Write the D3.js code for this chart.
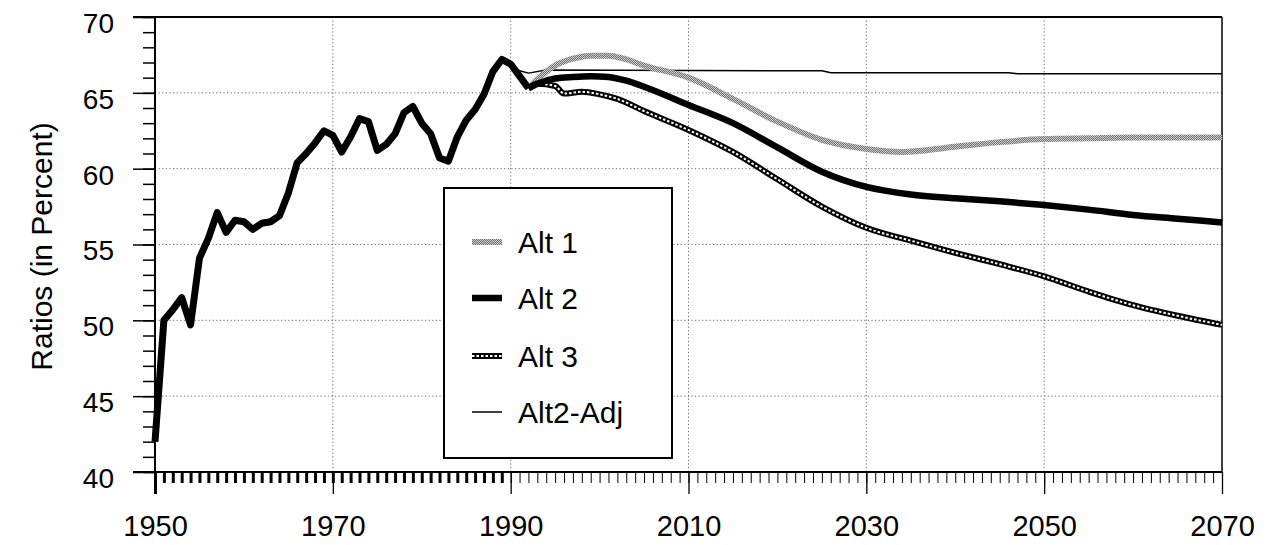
<!DOCTYPE html>
<html>
<head>
<meta charset="utf-8">
<script src="https://cdn.jsdelivr.net/npm/d3@7"></script>
<style>
  body { margin: 0; background: #fff; overflow: hidden; }
  svg { display: block; font-family: "Liberation Sans", Arial, sans-serif; }
  .axis path { display: none; }
  .axis text { fill: #000; }
</style>
</head>
<body>
<div id="chart"></div>
<script>
// historical ratio, one value per year 1950..1992
const histStart = 1950;
const historical = [
  42.0, 50.0, 50.7, 51.5, 49.7, 54.1, 55.4, 57.1, 55.8, 56.6,
  56.5, 56.0, 56.4, 56.5, 56.9, 58.4, 60.4, 61.0, 61.7, 62.5,
  62.2, 61.1, 62.1, 63.3, 63.1, 61.2, 61.6, 62.3, 63.7, 64.1,
  63.0, 62.3, 60.7, 60.5, 62.1, 63.2, 63.9, 64.9, 66.4, 67.2,
  66.9, 66.1, 65.3
];

// projections (year, value)
const alt1Years = [1992, 1993, 1995, 1997, 1999, 2001, 2003, 2005, 2010, 2015, 2020, 2025, 2030, 2034, 2040, 2045, 2050, 2055, 2060, 2065, 2070];
const alt1 =      [65.3, 65.9, 66.8, 67.25, 67.45, 67.45, 67.2, 66.8, 66.0, 64.6, 63.1, 61.9, 61.3, 61.1, 61.45, 61.75, 61.95, 62.0, 62.05, 62.05, 62.05];

const alt2Years = [1992, 1993, 1995, 1997, 1999, 2001, 2003, 2005, 2010, 2015, 2020, 2025, 2030, 2035, 2040, 2045, 2050, 2055, 2060, 2065, 2070];
const alt2 =      [65.3, 65.6, 65.95, 66.05, 66.1, 66.05, 65.8, 65.4, 64.2, 63.0, 61.4, 59.8, 58.8, 58.3, 58.05, 57.85, 57.6, 57.3, 56.95, 56.7, 56.45];

const alt3Years = [1992, 1993, 1995, 1996, 1998, 2000, 2002, 2005, 2010, 2015, 2020, 2025, 2030, 2035, 2040, 2045, 2050, 2055, 2060, 2065, 2070];
const alt3 =      [65.3, 65.6, 65.45, 64.95, 65.07, 64.9, 64.6, 63.8, 62.55, 61.1, 59.3, 57.5, 56.1, 55.25, 54.45, 53.7, 52.9, 51.9, 51.0, 50.3, 49.7];

const adjYears = [1990, 1991, 1992, 1994, 2025, 2026, 2046, 2047, 2070];
const alt2Adj =  [66.9, 66.45, 66.3, 66.5, 66.45, 66.33, 66.33, 66.26, 66.26];

const yMajor = [40, 45, 50, 55, 60, 65, 70];
const xMajor = [1950, 1970, 1990, 2010, 2030, 2050, 2070];
const legendLabels = ["Alt 1", "Alt 2", "Alt 3", "Alt2-Adj"];

const W = 1266, H = 545;
const pLeft = 155, pRight = 1222, pTop = 17, pBottom = 472;

const svg = d3.select("#chart").append("svg")
  .attr("width", W).attr("height", H);

// textured grey stroke for Alt 1
const pat = svg.append("defs").append("pattern")
  .attr("id", "hatch").attr("patternUnits", "userSpaceOnUse")
  .attr("width", 2).attr("height", 2);
pat.append("rect").attr("width", 2).attr("height", 2).attr("fill", "#707070");
pat.append("rect").attr("width", 1).attr("height", 1).attr("fill", "#cfcfcf");
pat.append("rect").attr("x", 1).attr("y", 1).attr("width", 1).attr("height", 1).attr("fill", "#cfcfcf");

const x = d3.scaleLinear().domain([1950, 2070]).range([pLeft, pRight]);
const y = d3.scaleLinear().domain([40, 70]).range([pBottom, pTop]);

// dotted grid
const grid = svg.append("g").attr("stroke", "#666").attr("stroke-width", 1)
  .attr("stroke-dasharray", "1.2,2.4");
grid.selectAll(".gy").data(yMajor.filter(v => v > 40 && v < 70)).enter().append("line")
  .attr("x1", pLeft).attr("x2", pRight).attr("y1", d => y(d)).attr("y2", d => y(d));
grid.selectAll(".gx").data(xMajor.filter(v => v > 1950 && v < 2070)).enter().append("line")
  .attr("y1", pTop).attr("y2", pBottom).attr("x1", d => x(d)).attr("x2", d => x(d));

// y axis: minor + major ticks
const yMinor = d3.range(40, 71, 1);
svg.append("g").attr("class", "axis").attr("transform", `translate(${pLeft},0)`)
  .call(d3.axisLeft(y).tickValues(yMinor).tickSize(12).tickFormat(""))
  .selectAll("line").attr("stroke", "#000").attr("stroke-width", 1.5);
const yAx = svg.append("g").attr("class", "axis").attr("transform", `translate(${pLeft},0)`)
  .call(d3.axisLeft(y).tickValues(yMajor).tickSize(22).tickPadding(19));
yAx.selectAll("line").attr("stroke", "#000").attr("stroke-width", 1.5);
yAx.selectAll("text").attr("font-size", 28).attr("dy", "0.55em");

// x axis: yearly ticks, thick over the historical period
const yearTicks = d3.range(1950, 2071, 1);
const xMinor = svg.append("g").attr("class", "axis").attr("transform", `translate(0,${pBottom})`)
  .call(d3.axisBottom(x).tickValues(yearTicks).tickSize(11).tickFormat(""));
xMinor.selectAll("line").attr("stroke", "#000")
  .attr("stroke-width", d => d < 1990 ? 3 : 1);
const xAx = svg.append("g").attr("class", "axis").attr("transform", `translate(0,${pBottom})`)
  .call(d3.axisBottom(x).tickValues(xMajor).tickSize(22).tickPadding(21).tickFormat(d3.format("d")));
xAx.selectAll("line").attr("stroke", "#000").attr("stroke-width", d => d === 1950 ? 3 : 1.3);
xAx.selectAll("text").attr("font-size", 29).attr("dy", "0.71em");

// frame
svg.append("line").attr("x1", pLeft - 22).attr("x2", pRight).attr("y1", pTop).attr("y2", pTop)
  .attr("stroke", "#000").attr("stroke-width", 2);
svg.append("line").attr("x1", pRight).attr("x2", pRight).attr("y1", pTop).attr("y2", pBottom)
  .attr("stroke", "#000").attr("stroke-width", 1.5);
svg.append("line").attr("x1", pLeft).attr("x2", pLeft).attr("y1", pTop - 1).attr("y2", pBottom + 8)
  .attr("stroke", "#000").attr("stroke-width", 2);
svg.append("line").attr("x1", pLeft - 22).attr("x2", pRight).attr("y1", pBottom).attr("y2", pBottom)
  .attr("stroke", "#000").attr("stroke-width", 2);

// y label
svg.append("text")
  .attr("transform", `translate(52,${(pTop + pBottom) / 2 + 2}) rotate(-90)`)
  .attr("text-anchor", "middle").attr("font-size", 30)
  .text("Ratios (in Percent)");

// lines
const pts = (yrs, vals) => yrs.map((yr, i) => [yr, vals[i]]);
const smooth = d3.line().x(d => x(d[0])).y(d => y(d[1])).curve(d3.curveMonotoneX);
const straight = d3.line().x(d => x(d[0])).y(d => y(d[1]));

const histPts = historical.map((v, i) => [histStart + i, v]);
const plot = svg.append("g").attr("fill", "none").attr("stroke-linejoin", "round");

plot.append("path").attr("d", straight(pts(adjYears, alt2Adj)))
  .attr("stroke", "#000").attr("stroke-width", 1.5);
plot.append("path").attr("d", smooth(pts(alt1Years, alt1)))
  .attr("stroke", "url(#hatch)").attr("stroke-width", 6);
plot.append("path").attr("d", smooth(pts(alt3Years, alt3)))
  .attr("stroke", "#000").attr("stroke-width", 6);
plot.append("path").attr("d", smooth(pts(alt3Years, alt3)))
  .attr("stroke", "#fff").attr("stroke-width", 2).attr("stroke-dasharray", "2.5,2");
plot.append("path").attr("d", smooth(pts(alt2Years, alt2)))
  .attr("stroke", "#000").attr("stroke-width", 6.5);
plot.append("path").attr("d", straight(histPts))
  .attr("stroke", "#000").attr("stroke-width", 7);

// legend
const lg = svg.append("g");
lg.append("rect").attr("x", 444).attr("y", 188).attr("width", 228).attr("height", 270)
  .attr("fill", "#fff").attr("stroke", "#000").attr("stroke-width", 2);
const rowY = [242, 298, 356, 412];
const styles = [
  { stroke: "url(#hatch)", w: 6 },
  { stroke: "#000", w: 6.5 },
  { stroke: "#000", w: 6, dots: true },
  { stroke: "#000", w: 1.5 }
];
legendLabels.forEach((lab, i) => {
  const s = styles[i];
  lg.append("line").attr("x1", 472).attr("x2", 502).attr("y1", rowY[i]).attr("y2", rowY[i])
    .attr("stroke", s.stroke).attr("stroke-width", s.w);
  if (s.dots) {
    lg.append("line").attr("x1", 472).attr("x2", 502).attr("y1", rowY[i]).attr("y2", rowY[i])
      .attr("stroke", "#fff").attr("stroke-width", 2).attr("stroke-dasharray", "2.5,2");
  }
  lg.append("text").attr("x", 518).attr("y", rowY[i]).attr("dy", "0.36em")
    .attr("font-size", 30).text(lab);
});
</script>
</body>
</html>
